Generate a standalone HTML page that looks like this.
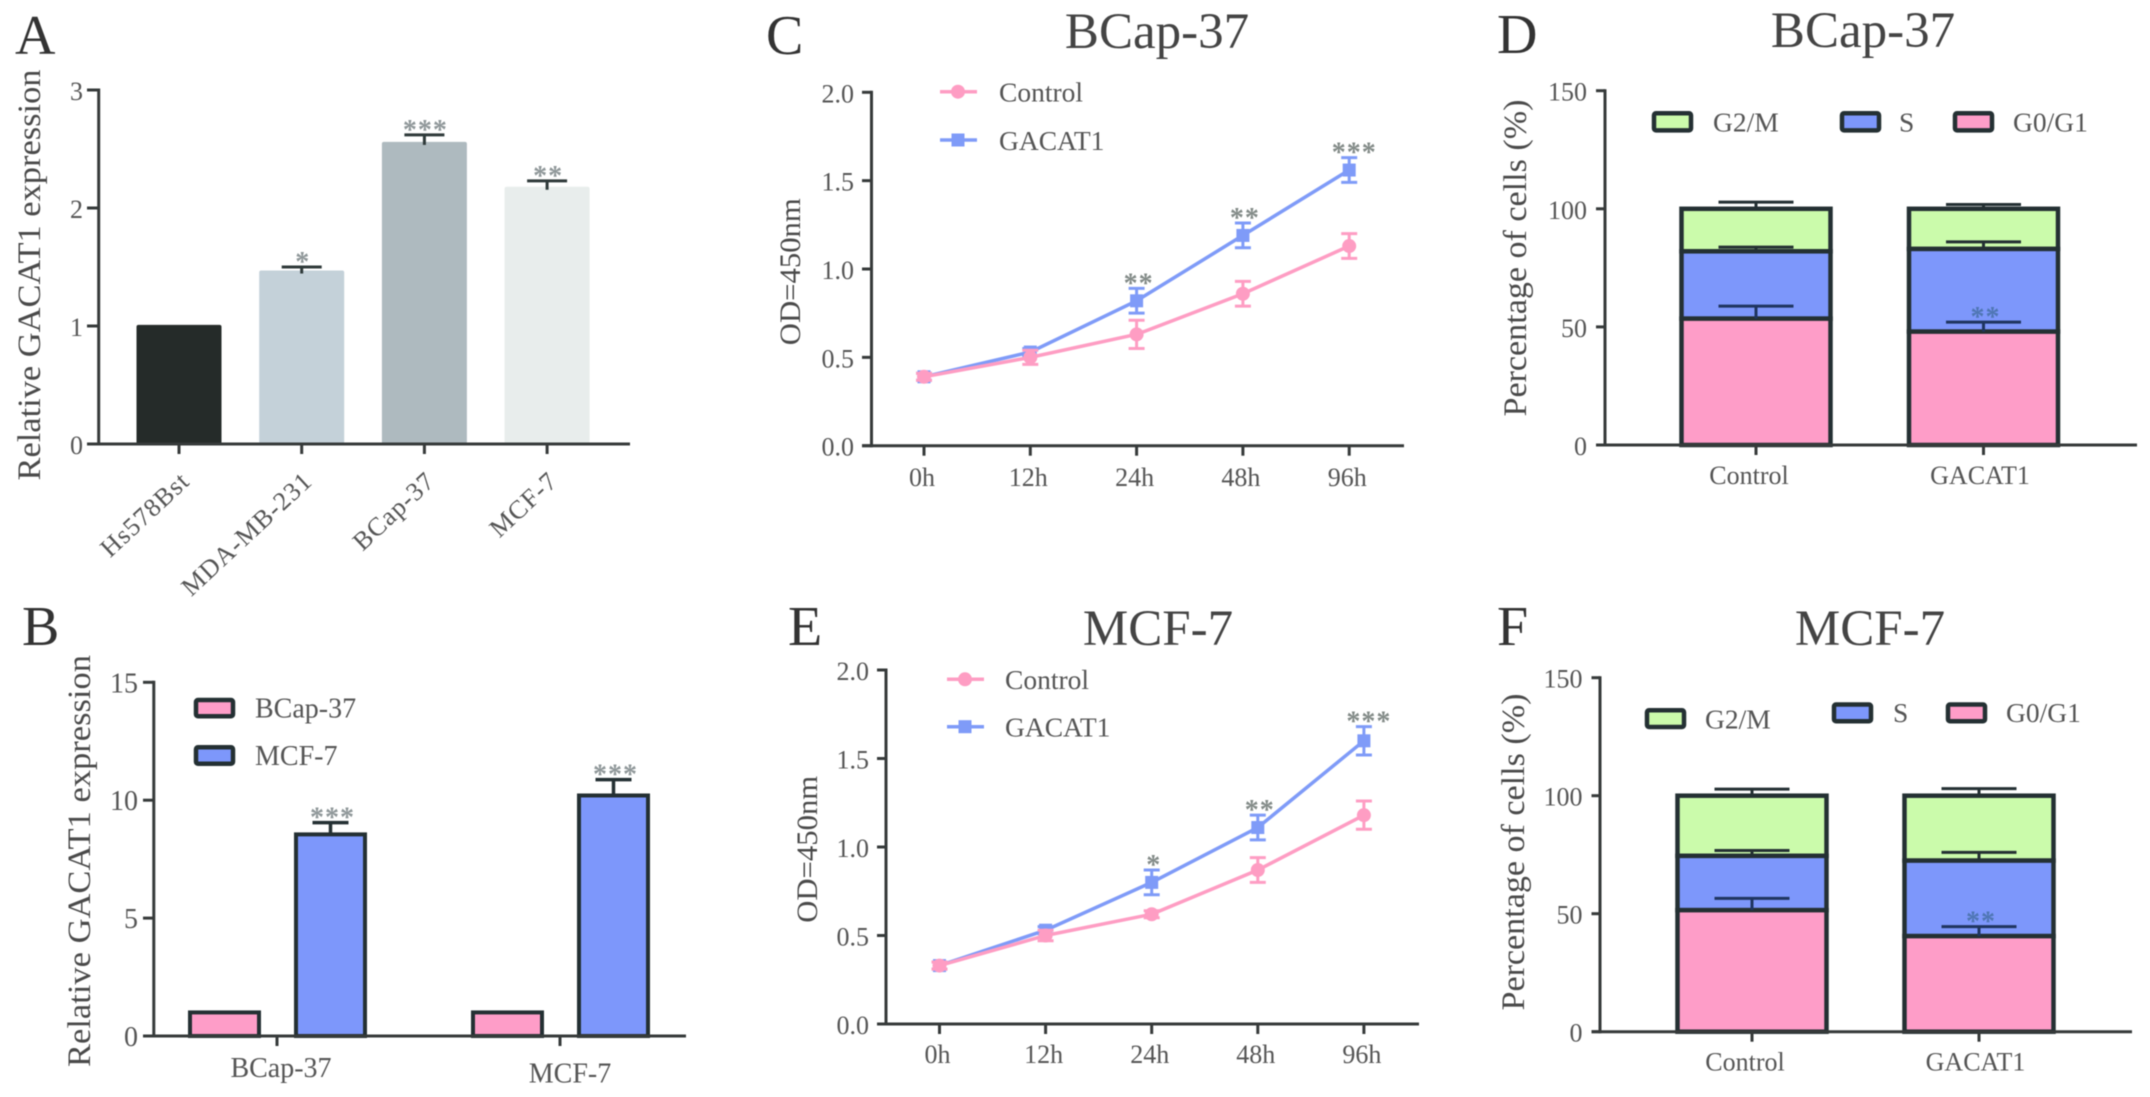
<!DOCTYPE html>
<html lang="en">
<head>
<meta charset="utf-8">
<title>GACAT1 expression figure</title>
<style>
html,body{margin:0;padding:0;background:#fff;width:2150px;height:1097px;overflow:hidden}
svg{display:block;filter:blur(.55px)}
text{font-family:"Liberation Serif","Times New Roman",serif;fill:#555}
.letter{font-size:56px;fill:#333}
.title{font-size:51px;fill:#444;text-anchor:middle}
.ytitle{font-size:33px;fill:#4a4a4a;text-anchor:middle}
.odtitle{font-size:30px;fill:#4a4a4a;text-anchor:middle}
.legend{font-size:27.5px;fill:#555}
</style>
</head>
<body>
<svg id="figure" xmlns="http://www.w3.org/2000/svg" width="2150" height="1097" viewBox="0 0 2150 1097">
  <rect width="2150" height="1097" fill="#fff"/>

  <g id="panel-a">
    <text class="letter" x="15" y="54">A</text>
    <text class="ytitle" transform="translate(40,275) rotate(-90)" textLength="411" lengthAdjust="spacingAndGlyphs">Relative GACAT1 expression</text>
  </g>

  <g id="panel-b">
    <text class="letter" x="22" y="645">B</text>
    <text class="ytitle" transform="translate(90,861) rotate(-90)" textLength="412" lengthAdjust="spacingAndGlyphs">Relative GACAT1 expression</text>
    <g>
      <rect x="196" y="700" width="37" height="16.3" rx="2" fill="#fe9dc8" stroke="#243033" stroke-width="4.5"/>
      <text class="legend" x="255" y="717.5" style="font-size:28px">BCap-37</text>
      <rect x="196" y="747.3" width="37" height="16.5" rx="2" fill="#7d97fb" stroke="#243033" stroke-width="4.5"/>
      <text class="legend" x="255" y="765" style="font-size:28px">MCF-7</text>
    </g>
  </g>

  <g id="panel-c">
    <text class="letter" x="766" y="54">C</text>
    <text class="title" x="1157" y="48">BCap-37</text>
    <text class="odtitle" transform="translate(800,271.7) rotate(-90)" textLength="147" lengthAdjust="spacingAndGlyphs">OD=450nm</text>
    <g>
      <line x1="940" x2="977" y1="91.7" y2="91.7" stroke="#fe9dc3" stroke-width="3.5"/>
      <circle cx="958" cy="91.7" r="7" fill="#fe9dc3"/>
      <text class="legend" x="999" y="101.5">Control</text>
      <line x1="940" x2="977" y1="140" y2="140" stroke="#7f9bf8" stroke-width="3.5"/>
      <rect x="951.5" y="133.5" width="13" height="13" fill="#7f9bf8"/>
      <text class="legend" x="999" y="150">GACAT1</text>
    </g>
  </g>

  <g id="panel-e">
    <text class="letter" x="788" y="645">E</text>
    <text class="title" x="1158" y="645">MCF-7</text>
    <text class="odtitle" transform="translate(817,849.3) rotate(-90)" textLength="147" lengthAdjust="spacingAndGlyphs">OD=450nm</text>
    <g>
      <line x1="947" x2="984" y1="679.3" y2="679.3" stroke="#fe9dc3" stroke-width="3.5"/>
      <circle cx="965" cy="679.3" r="7" fill="#fe9dc3"/>
      <text class="legend" x="1005" y="689">Control</text>
      <line x1="947" x2="984" y1="726.7" y2="726.7" stroke="#7f9bf8" stroke-width="3.5"/>
      <rect x="958.5" y="720.2" width="13" height="13" fill="#7f9bf8"/>
      <text class="legend" x="1005" y="736.5">GACAT1</text>
    </g>
  </g>

  <g id="panel-d">
    <text class="letter" x="1497" y="53">D</text>
    <text class="title" x="1863" y="47">BCap-37</text>
    <text class="ytitle" transform="translate(1526,258) rotate(-90)" textLength="317" lengthAdjust="spacingAndGlyphs">Percentage of cells (%)</text>
    <g>
      <rect x="1654" y="113.2" width="37" height="17.2" rx="2" fill="#cbfbab" stroke="#243033" stroke-width="4.5"/>
      <text class="legend" x="1713" y="131.5">G2/M</text>
      <rect x="1842" y="113.2" width="37" height="17.2" rx="2" fill="#7d97fb" stroke="#243033" stroke-width="4.5"/>
      <text class="legend" x="1899" y="131.5">S</text>
      <rect x="1955" y="113.2" width="37" height="17.2" rx="2" fill="#fe9dc8" stroke="#243033" stroke-width="4.5"/>
      <text class="legend" x="2013" y="131.5">G0/G1</text>
    </g>
  </g>

  <g id="panel-f">
    <text class="letter" x="1497" y="645">F</text>
    <text class="title" x="1870" y="645">MCF-7</text>
    <text class="ytitle" transform="translate(1524,852) rotate(-90)" textLength="317" lengthAdjust="spacingAndGlyphs">Percentage of cells (%)</text>
    <g>
      <rect x="1647" y="710.3" width="37" height="16.7" rx="2" fill="#cbfbab" stroke="#243033" stroke-width="4.5"/>
      <text class="legend" x="1705" y="728.5">G2/M</text>
      <rect x="1834" y="704.5" width="37" height="16.7" rx="2" fill="#7d97fb" stroke="#243033" stroke-width="4.5"/>
      <text class="legend" x="1893" y="722">S</text>
      <rect x="1948" y="704.5" width="37" height="16.7" rx="2" fill="#fe9dc8" stroke="#243033" stroke-width="4.5"/>
      <text class="legend" x="2006" y="722">G0/G1</text>
    </g>
  </g>
</svg>

<script>
// ---------- Panel A ----------
const aCategories = ['Hs578Bst', 'MDA-MB-231', 'BCap-37', 'MCF-7'];
const aValues = [1.01, 1.47, 2.56, 2.18];
const aErrors = [0, 0.03, 0.06, 0.05];
const aStars = ['', '*', '***', '**'];
const aYTicks = ['0', '1', '2', '3'];

// ---------- Panel B ----------
const bCategories = ['BCap-37', 'MCF-7'];
const bBcapValues = [1.0, 1.0];
const bMcfValues = [8.55, 10.2];
const bMcfErrors = [0.5, 0.67];
const bStars = ['***', '***'];
const bYTicks = ['0', '5', '10', '15'];

// ---------- Panel C ----------
const cTimes = ['0h', '12h', '24h', '48h', '96h'];
const cControl = [0.39, 0.50, 0.63, 0.86, 1.13];
const cControlErr = [0.02, 0.04, 0.08, 0.07, 0.07];
const cGacat = [0.39, 0.53, 0.82, 1.19, 1.56];
const cGacatErr = [0.02, 0.02, 0.07, 0.07, 0.07];
const cStars = ['', '', '**', '**', '***'];
const cYTicks = ['0.0', '0.5', '1.0', '1.5', '2.0'];

// ---------- Panel E ----------
const eTimes = ['0h', '12h', '24h', '48h', '96h'];
const eControl = [0.33, 0.50, 0.62, 0.87, 1.18];
const eControlErr = [0.02, 0.03, 0.02, 0.07, 0.08];
const eGacat = [0.33, 0.53, 0.80, 1.11, 1.60];
const eGacatErr = [0.02, 0.02, 0.07, 0.07, 0.08];
const eStars = ['', '', '*', '**', '***'];
const eYTicks = ['0.0', '0.5', '1.0', '1.5', '2.0'];

// ---------- Panel D ----------
const dCategories = ['Control', 'GACAT1'];
const dG0 = [53.5, 48];
const dS = [28.5, 35];
const dG2 = [18, 17];
const dG0Err = [5.3, 4];
const dSErr = [1.8, 3];
const dG2Err = [2.8, 1.8];
const dStars = ['', '**'];
const dYTicks = ['0', '50', '100', '150'];

// ---------- Panel F ----------
const fCategories = ['Control', 'GACAT1'];
const fG0 = [51.5, 40.5];
const fS = [23, 32];
const fG2 = [25.5, 27.5];
const fG0Err = [5, 4];
const fSErr = [2.3, 3.5];
const fG2Err = [2.8, 3];
const fStars = ['', '**'];
const fYTicks = ['0', '50', '100', '150'];

const NS = 'http://www.w3.org/2000/svg';
const AXIS = '#363a3a';
const DARK = '#243033';
const PINK = '#fe9dc8';
const BLUE = '#7d97fb';
const GREEN = '#cbfbab';
const LPINK = '#fe9dc3';
const LBLUE = '#7f9bf8';

function mk(tag, attrs, parent, content) {
  const el = document.createElementNS(NS, tag);
  for (const k in attrs) el.setAttribute(k, attrs[k]);
  if (content !== undefined) el.textContent = content;
  parent.appendChild(el);
  return el;
}

function scaleY(L) {
  return v => L.y0 + (L.yTop - L.y0) * v / L.yMax;
}

function drawYAxis(g, L, ticks) {
  const y = scaleY(L);
  const spine = mk('line', {x1: L.axisX, x2: L.axisX, y1: L.yTop - 1.5, y2: L.y0 + 1.5, stroke: AXIS, 'stroke-width': 3}, g);
  
  
  ticks.forEach(t => {
    const v = parseFloat(t);
    const tick = mk('line', {x1: L.tickLeft, x2: L.axisX, y1: y(v), y2: y(v), stroke: AXIS, 'stroke-width': 3}, g);
    
    
    const label = mk('text', {x: L.tickLeft - L.labelGap, y: y(v) + 10, 'text-anchor': 'end', 'font-size': L.fontSize}, g, t);
    
    
  });
}

function drawXAxis(g, L, cats) {
  const base = mk('line', {x1: L.tickLeft, x2: L.xEnd, y1: L.y0, y2: L.y0, stroke: AXIS, 'stroke-width': 3}, g);
  
  
  cats.forEach((c, i) => {
    const x = L.xFirst + i * L.xStep;
    const tick = mk('line', {x1: x, x2: x, y1: L.y0, y2: L.y0 + 10, stroke: AXIS, 'stroke-width': 3}, g);
    
    
    let label;
    if (L.rotated) {
      const lx = x + 12, ly = L.labelY;
      label = mk('text', {x: lx, y: ly, 'text-anchor': 'end', 'font-size': L.fontSize, 'letter-spacing': 1, transform: 'rotate(-43 ' + lx + ' ' + ly + ')'}, g, c);
    } else {
      label = mk('text', {x: x + L.labelDx(i), y: L.labelY + L.labelDy(i), 'text-anchor': 'middle', 'font-size': L.fontSize}, g, c);
    }
    
    
  });
}

function drawErr(g, x, yFrom, yTo, capW, color, w) {
  const stem = mk('line', {x1: x, x2: x, y1: yFrom, y2: yTo, stroke: color, 'stroke-width': w}, g);
  
  
  const cap = mk('line', {x1: x - capW / 2, x2: x + capW / 2, y1: yTo, y2: yTo, stroke: color, 'stroke-width': w}, g);
  
  
}

function drawStars(g, x, capY, stars, color) {
  if (!stars) return;
  const s = mk('text', {x: x, y: capY + 6, 'text-anchor': 'middle', 'font-size': 28, 'font-weight': 'bold', 'letter-spacing': 1, style: 'fill:' + color}, g, stars);
  
  
}

// ---------- Panel A draw ----------
const colorsA = ['#252b29', '#c4d1d9', '#aebabf', '#e8edec'];
(function () {
  const g = document.getElementById('panel-a');
  const L = {axisX: 98.7, tickLeft: 87, labelGap: 4, y0: 444, yTop: 90, yMax: 3, xEnd: 630, xFirst: 179, xStep: 122.7, fontSize: 26, rotated: true, labelY: 483};
  const y = scaleY(L);
  const barW = 85;
  aCategories.forEach((c, i) => {
    const x = L.xFirst + i * L.xStep;
    const bar = mk('rect', {x: x - barW / 2, y: y(aValues[i]), width: barW, height: L.y0 - y(aValues[i]), fill: colorsA[i], rx: 2}, g);
    
    
    if (aErrors[i] > 0) {
      drawErr(g, x, y(aValues[i]) + 3, y(aValues[i] + aErrors[i]), 40, '#2f3a3a', 3);
      drawStars(g, x + 1, y(aValues[i] + aErrors[i]) - 2, aStars[i], '#8f9799');
    }
  });
  drawYAxis(g, L, aYTicks);
  drawXAxis(g, L, aCategories);
})();

// ---------- Panel B draw ----------
(function () {
  const g = document.getElementById('panel-b');
  const L = {axisX: 153.8, tickLeft: 143, labelGap: 5, y0: 1036, yTop: 682.3, yMax: 15, xEnd: 686, xFirst: 277, xStep: 283, fontSize: 28, labelY: 1077, labelDx: i => 4 + i * 6, labelDy: i => i * 5.3};
  const y = scaleY(L);
  const barW = 73;
  bCategories.forEach((c, i) => {
    const cx = L.xFirst + i * L.xStep;
    const pinkX = cx - 52.5, blueX = cx + 53.5;
    const p = mk('rect', {x: pinkX - barW / 2 + 2, y: y(bBcapValues[i]), width: barW - 4, height: L.y0 - y(bBcapValues[i]), fill: PINK, stroke: DARK, 'stroke-width': 4}, g);
    
    
    drawErr(g, blueX, y(bMcfValues[i]), y(bMcfValues[i] + bMcfErrors[i]), 36, DARK, 3.5);
    const b = mk('rect', {x: blueX - barW / 2 + 2, y: y(bMcfValues[i]), width: barW - 4, height: L.y0 - y(bMcfValues[i]), fill: BLUE, stroke: DARK, 'stroke-width': 4}, g);
    
    
    drawStars(g, blueX + 2, y(bMcfValues[i] + bMcfErrors[i]) - 2, bStars[i], '#8f9799');
  });
  drawYAxis(g, L, bYTicks);
  drawXAxis(g, L, bCategories);
})();

// ---------- Line charts ----------
function drawLineChart(id, L, times, ticks, control, controlErr, gacat, gacatErr, stars) {
  const g = document.getElementById(id);
  const y = scaleY(L);
  const xOf = i => L.xFirst + i * L.xStep;
  drawYAxis(g, L, ticks);
  drawXAxis(g, L, times);

  const capW = 16;
  gacat.forEach((v, i) => {
    const stem = mk('line', {x1: xOf(i), x2: xOf(i), y1: y(v - gacatErr[i]), y2: y(v + gacatErr[i]), stroke: LBLUE, 'stroke-width': 3}, g);
    
    
    [v - gacatErr[i], v + gacatErr[i]].forEach(e => {
      const cap = mk('line', {x1: xOf(i) - capW / 2, x2: xOf(i) + capW / 2, y1: y(e), y2: y(e), stroke: LBLUE, 'stroke-width': 3}, g);
      
      
    });
  });
  const lineB = mk('polyline', {points: gacat.map((v, i) => xOf(i) + ',' + y(v)).join(' '), fill: 'none', stroke: LBLUE, 'stroke-width': 3.5}, g);
  
  
  gacat.forEach((v, i) => {
    const m = mk('rect', {x: xOf(i) - 6.5, y: y(v) - 6.5, width: 13, height: 13, fill: LBLUE}, g);
    
    
    drawStars(g, xOf(i) + 2 + (i > 3 ? 3 : 0), y(v + gacatErr[i]) - 2, stars[i], '#838b88');
  });

  control.forEach((v, i) => {
    const stem = mk('line', {x1: xOf(i), x2: xOf(i), y1: y(v - controlErr[i]), y2: y(v + controlErr[i]), stroke: LPINK, 'stroke-width': 3}, g);
    
    
    [v - controlErr[i], v + controlErr[i]].forEach(e => {
      const cap = mk('line', {x1: xOf(i) - capW / 2, x2: xOf(i) + capW / 2, y1: y(e), y2: y(e), stroke: LPINK, 'stroke-width': 3}, g);
      
      
    });
  });
  const lineP = mk('polyline', {points: control.map((v, i) => xOf(i) + ',' + y(v)).join(' '), fill: 'none', stroke: LPINK, 'stroke-width': 3.5}, g);
  
  
  control.forEach((v, i) => {
    const m = mk('circle', {cx: xOf(i), cy: y(v), r: 7, fill: LPINK}, g);
    
    
  });
}

drawLineChart('panel-c',
  {axisX: 871.5, tickLeft: 862, labelGap: 8, y0: 445.7, yTop: 92.3, yMax: 2, xEnd: 1404, xFirst: 924, xStep: 106.3, fontSize: 26, labelY: 486, labelDx: () => -2, labelDy: () => 0},
  cTimes, cYTicks, cControl, cControlErr, cGacat, cGacatErr, cStars);

drawLineChart('panel-e',
  {axisX: 886, tickLeft: 877, labelGap: 8, y0: 1024, yTop: 670, yMax: 2, xEnd: 1419, xFirst: 939.5, xStep: 106.1, fontSize: 26, labelY: 1063, labelDx: () => -2, labelDy: () => 0},
  eTimes, eYTicks, eControl, eControlErr, eGacat, eGacatErr, eStars);

// ---------- Stacked charts ----------
function drawStacked(id, L, cats, ticks, g0, s, g2, g0Err, sErr, g2Err, stars) {
  const g = document.getElementById(id);
  const y = scaleY(L);
  const barW = 153;
  cats.forEach((c, i) => {
    const x = L.xFirst + i * L.xStep;
    const left = x - barW / 2 + 2;
    const top1 = g0[i], top2 = g0[i] + s[i], top3 = g0[i] + s[i] + g2[i];

    const r3 = mk('rect', {x: left, y: y(top3), width: barW - 4, height: y(top2) - y(top3), fill: GREEN, stroke: DARK, 'stroke-width': 4.5}, g);
    
    
    const r2 = mk('rect', {x: left, y: y(top2), width: barW - 4, height: y(top1) - y(top2), fill: BLUE, stroke: DARK, 'stroke-width': 4.5}, g);
    
    
    const r1 = mk('rect', {x: left, y: y(top1), width: barW - 4, height: L.y0 - y(top1), fill: PINK, stroke: DARK, 'stroke-width': 4.5}, g);
    
    

    drawErr(g, x, y(top1), y(top1 + g0Err[i]), 75, '#1f3560', 3);
    drawErr(g, x, y(top2), y(top2 + sErr[i]), 75, DARK, 3);
    drawErr(g, x, y(top3), y(top3 + g2Err[i]), 75, DARK, 3);
    drawStars(g, x + 2, y(top1 + g0Err[i]) - 2, stars[i], '#4f76b4');
  });
  drawYAxis(g, L, ticks);
  drawXAxis(g, L, cats);
}

drawStacked('panel-d',
  {axisX: 1605, tickLeft: 1596, labelGap: 9, y0: 445, yTop: 90.7, yMax: 150, xEnd: 2137, xFirst: 1756, xStep: 227.5, fontSize: 26, labelY: 484, labelDx: i => -7 + i * 3.5, labelDy: () => 0},
  dCategories, dYTicks, dG0, dS, dG2, dG0Err, dSErr, dG2Err, dStars);

drawStacked('panel-f',
  {axisX: 1600, tickLeft: 1591.5, labelGap: 9, y0: 1031.7, yTop: 677.7, yMax: 150, xEnd: 2132, xFirst: 1752, xStep: 227, fontSize: 26, labelY: 1070.5, labelDx: i => -7 + i * 3.5, labelDy: () => 0},
  fCategories, fYTicks, fG0, fS, fG2, fG0Err, fSErr, fG2Err, fStars);
</script>
</body>
</html>
